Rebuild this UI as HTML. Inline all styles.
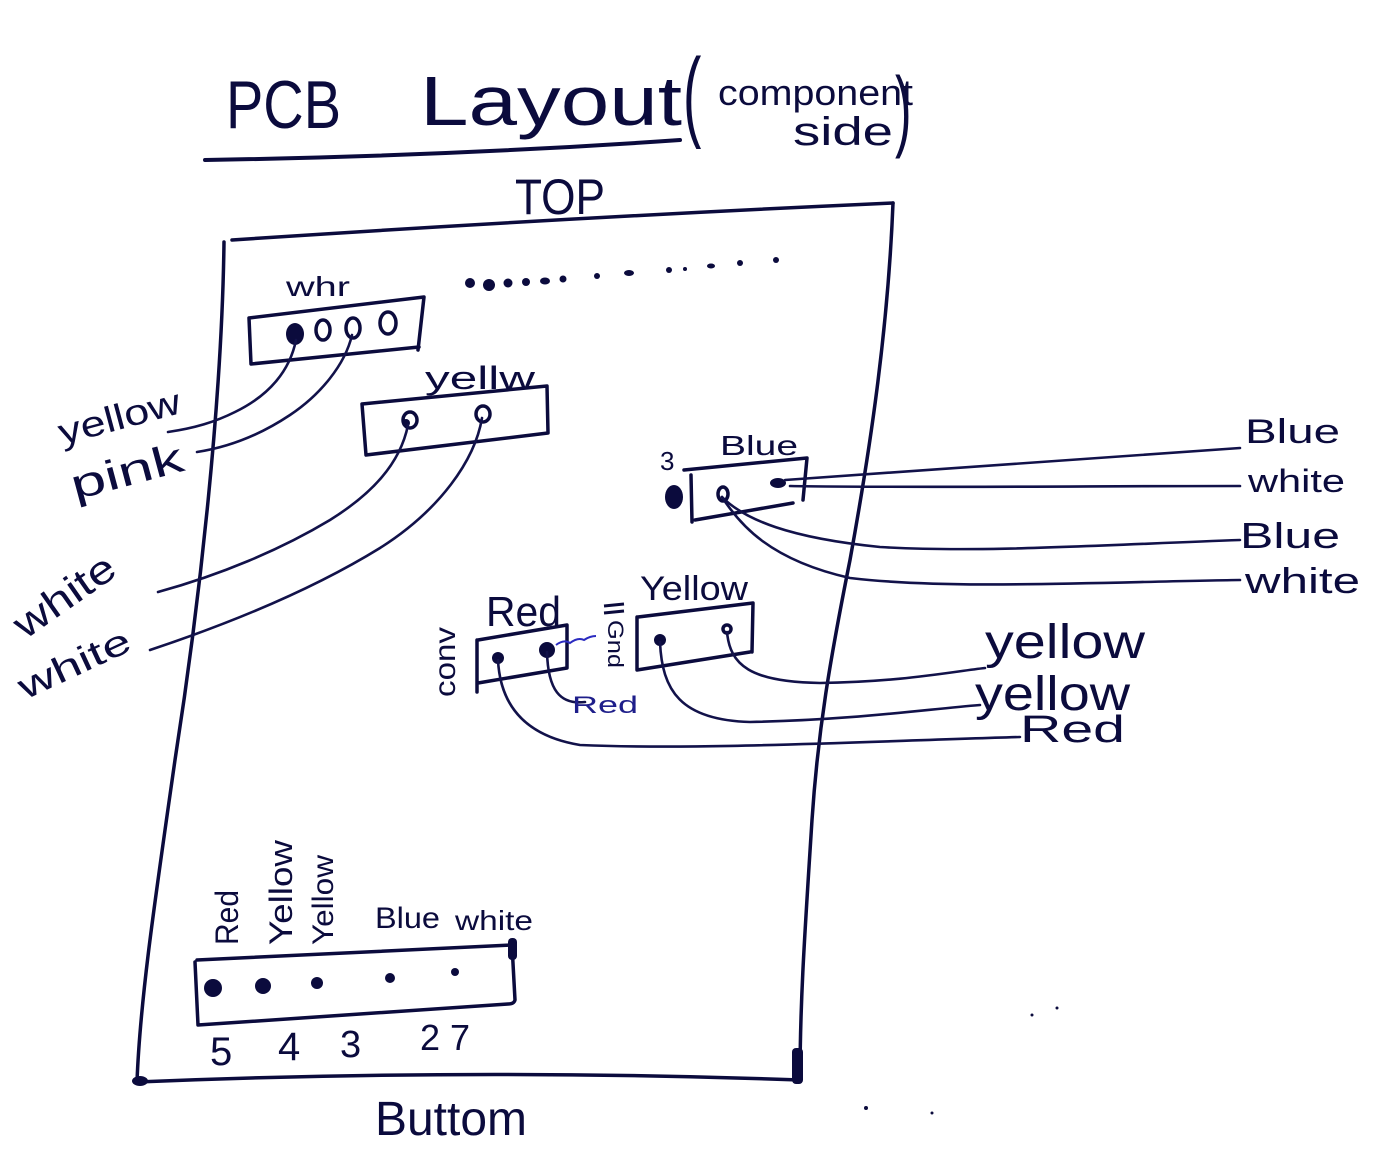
<!DOCTYPE html>
<html><head><meta charset="utf-8"><style>
html,body{margin:0;padding:0;background:#fff;}
svg{display:block;}
text{font-family:"Liberation Sans",sans-serif;fill:#0b0b3d;}
</style></head><body>
<svg width="1381" height="1176" viewBox="0 0 1381 1176" xmlns="http://www.w3.org/2000/svg">
<rect width="1381" height="1176" fill="#fff"/>
<!-- Title -->
<text x="226" y="128" font-size="68" textLength="115" lengthAdjust="spacingAndGlyphs">PCB</text>
<text x="420" y="125" font-size="70" textLength="262" lengthAdjust="spacingAndGlyphs">Layout</text>
<text transform="translate(683,128) scale(0.55,1)" font-size="100">(</text>
<text x="718" y="105" font-size="36" textLength="195" lengthAdjust="spacingAndGlyphs">component</text>
<text x="793" y="145" font-size="40" textLength="100" lengthAdjust="spacingAndGlyphs">side</text>
<text transform="translate(895,140) scale(0.55,1)" font-size="90">)</text>
<path d="M205,160 Q450,156 680,140" fill="none" stroke="#0b0b3d" stroke-width="4" stroke-linecap="round"/>
<text x="515" y="214" font-size="50" textLength="90" lengthAdjust="spacingAndGlyphs">TOP</text>

<g fill="none" stroke="#0b0b3d" stroke-width="3.5" stroke-linecap="round" stroke-linejoin="round">
<!-- board -->
<path d="M232,240 Q560,218 893,203"/>
<path d="M893,203 C888,330 870,450 850,560 C830,660 818,730 812,820 C805,930 800,1000 800,1080"/>
<path d="M224,242 C222,400 200,600 175,760 C155,900 140,1000 137,1082"/>
<path d="M137,1082 Q470,1068 800,1080"/>
<!-- top-left connector -->
<path d="M249,318 L424,297 L418,350 M419,347 L251,364 L249,318"/>
<!-- yellow connector -->
<path d="M362,404 L547,386 L548,433 L366,455 Z"/>
<!-- blue connector -->
<path d="M684,470 L807,458 L803,500 M793,503 L695,520 M691,475 L692,522"/>
<!-- red connector -->
<path d="M478,640 L567,625 L567,668 L478,683 M477,640 L477,692"/>
<!-- yellow connector 2 -->
<path d="M638,617 L753,603 L752,652 M750,652 L637,670 L637,617"/>
<!-- bottom connector -->
<path d="M197,960 L512,945 L515,1000 Q514,1004 508,1004 L198,1025 L195,962"/>
</g>
<!-- corner blobs -->
<ellipse cx="140" cy="1081" rx="8" ry="5" fill="#0b0b3d"/>
<rect x="792" y="1048" width="11" height="36" rx="4" fill="#0b0b3d"/>
<rect x="508" y="938" width="9" height="22" rx="4" fill="#0b0b3d"/>

<!-- top dots -->
<g fill="#0b0b3d">
<circle cx="470" cy="283" r="5"/><circle cx="489" cy="285" r="6"/><circle cx="508" cy="283" r="4.5"/>
<circle cx="526" cy="282" r="4"/><ellipse cx="545" cy="281" rx="5" ry="3.5"/><circle cx="563" cy="279" r="3.5"/>
<circle cx="597" cy="276" r="3"/><ellipse cx="629" cy="273" rx="5" ry="3"/><circle cx="669" cy="270" r="3"/>
<circle cx="685" cy="269" r="2"/><ellipse cx="711" cy="266" rx="4" ry="2.5"/><circle cx="740" cy="263" r="3"/>
<circle cx="776" cy="260" r="3"/>
</g>

<!-- top-left connector pins -->
<g fill="none" stroke="#0b0b3d" stroke-width="3.5">
<ellipse cx="323" cy="330" rx="7" ry="10"/>
<ellipse cx="353" cy="328" rx="7" ry="10"/>
<ellipse cx="388" cy="323" rx="8" ry="11"/>
<ellipse cx="410" cy="420" rx="7" ry="8"/>
<ellipse cx="483" cy="414" rx="7" ry="8"/>
<ellipse cx="723" cy="494" rx="5" ry="7"/>
<circle cx="727" cy="629" r="4"/>
</g>
<g fill="#0b0b3d">
<ellipse cx="295" cy="334" rx="9" ry="11"/>
<ellipse cx="406" cy="423" rx="4" ry="4"/>
<ellipse cx="778" cy="483" rx="8" ry="5"/>
<ellipse cx="674" cy="497" rx="9" ry="12"/>
<circle cx="498" cy="658" r="6"/>
<circle cx="547" cy="650" r="8"/>
<circle cx="660" cy="640" r="6"/>
<circle cx="213" cy="988" r="9"/>
<circle cx="263" cy="986" r="8"/>
<circle cx="317" cy="983" r="6"/>
<circle cx="390" cy="978" r="5"/>
<circle cx="455" cy="972" r="4"/>
<circle cx="1032" cy="1015" r="1.5"/><circle cx="1057" cy="1008" r="1.5"/><circle cx="866" cy="1108" r="2"/><circle cx="932" cy="1113" r="1.5"/>
</g>

<!-- wires -->
<g fill="none" stroke="#12124a" stroke-width="2.6" stroke-linecap="round">
<path d="M296,340 C290,370 270,395 235,412 C215,422 195,428 168,432"/>
<path d="M352,335 C345,365 320,395 290,415 C260,435 230,447 197,452"/>
<path d="M408,425 C400,465 370,495 330,520 C280,550 220,575 158,592"/>
<path d="M482,418 C475,460 440,510 380,548 C320,585 240,620 150,650"/>
<path d="M785,480 C850,476 1000,465 1240,448"/>
<path d="M790,486 C900,488 1100,486 1240,486"/>
<path d="M722,497 C745,520 790,538 880,547 C980,553 1100,545 1240,540"/>
<path d="M722,497 C740,525 770,560 850,578 C950,590 1100,582 1240,580"/>
<path d="M498,660 C500,700 520,735 580,745 C700,750 850,742 1020,737"/>
<path d="M547,652 C548,690 560,705 585,702"/>
<path d="M660,642 C662,690 680,720 750,722 C850,720 920,710 980,705"/>
<path d="M727,632 C730,665 750,682 820,683 C900,682 950,672 985,668"/>
</g>
<path d="M556,645 q8,-6 14,-2 q8,-6 14,-3 q6,-4 12,-4" fill="none" stroke="#2b2bc0" stroke-width="2"/>
<path d="M604,606 L624,604 M604,613 L624,611" stroke="#0b0b3d" stroke-width="3"/>

<!-- labels -->
<text x="286" y="296" font-size="28" textLength="64" lengthAdjust="spacingAndGlyphs">whr</text>
<text x="425" y="389" font-size="32" textLength="110" lengthAdjust="spacingAndGlyphs">yellw</text>
<text x="720" y="455" font-size="28" textLength="78" lengthAdjust="spacingAndGlyphs">Blue</text>
<text x="660" y="470" font-size="26">3</text>
<text x="486" y="626" font-size="42" textLength="75" lengthAdjust="spacingAndGlyphs">Red</text>
<text x="640" y="600" font-size="34" textLength="108" lengthAdjust="spacingAndGlyphs">Yellow</text>
<text x="572" y="713" font-size="24" textLength="66" lengthAdjust="spacingAndGlyphs" style="fill:#1e1e8a">Red</text>
<text transform="rotate(-90 455 697)" x="455" y="697" font-size="30" textLength="70" lengthAdjust="spacingAndGlyphs">conv</text>
<text transform="rotate(90 608 620)" x="608" y="620" font-size="22" textLength="48" lengthAdjust="spacingAndGlyphs">Gnd</text>

<text transform="rotate(-15 62 445)" x="62" y="445" font-size="36" textLength="125" lengthAdjust="spacingAndGlyphs">yellow</text>
<text transform="rotate(-15 75 500)" x="75" y="500" font-size="42" textLength="115" lengthAdjust="spacingAndGlyphs">pink</text>
<text transform="rotate(-35 25 640)" x="25" y="640" font-size="40" textLength="115" lengthAdjust="spacingAndGlyphs">white</text>
<text transform="rotate(-25 25 700)" x="25" y="700" font-size="36" textLength="120" lengthAdjust="spacingAndGlyphs">white</text>

<text x="1245" y="443" font-size="34" textLength="95" lengthAdjust="spacingAndGlyphs">Blue</text>
<text x="1248" y="492" font-size="32" textLength="97" lengthAdjust="spacingAndGlyphs">white</text>
<text x="1240" y="548" font-size="36" textLength="100" lengthAdjust="spacingAndGlyphs">Blue</text>
<text x="1245" y="593" font-size="36" textLength="115" lengthAdjust="spacingAndGlyphs">white</text>
<text x="985" y="658" font-size="48" textLength="160" lengthAdjust="spacingAndGlyphs">yellow</text>
<text x="975" y="710" font-size="48" textLength="155" lengthAdjust="spacingAndGlyphs">yellow</text>
<text x="1020" y="742" font-size="38" textLength="105" lengthAdjust="spacingAndGlyphs">Red</text>

<text transform="rotate(-90 238 945)" x="238" y="945" font-size="32" textLength="55" lengthAdjust="spacingAndGlyphs">Red</text>
<text transform="rotate(-90 292 945)" x="292" y="945" font-size="32" textLength="105" lengthAdjust="spacingAndGlyphs">Yellow</text>
<text transform="rotate(-90 333 945)" x="333" y="945" font-size="30" textLength="90" lengthAdjust="spacingAndGlyphs">Yellow</text>
<text x="375" y="928" font-size="30" textLength="65" lengthAdjust="spacingAndGlyphs">Blue</text>
<text x="455" y="930" font-size="28" textLength="78" lengthAdjust="spacingAndGlyphs">white</text>
<text x="210" y="1065" font-size="40">5</text>
<text x="278" y="1060" font-size="40">4</text>
<text x="340" y="1057" font-size="38">3</text>
<text x="420" y="1050" font-size="36">2</text>
<text x="450" y="1050" font-size="36">7</text>
<text x="375" y="1135" font-size="48" textLength="152" lengthAdjust="spacingAndGlyphs">Buttom</text>
</svg>
</body></html>
